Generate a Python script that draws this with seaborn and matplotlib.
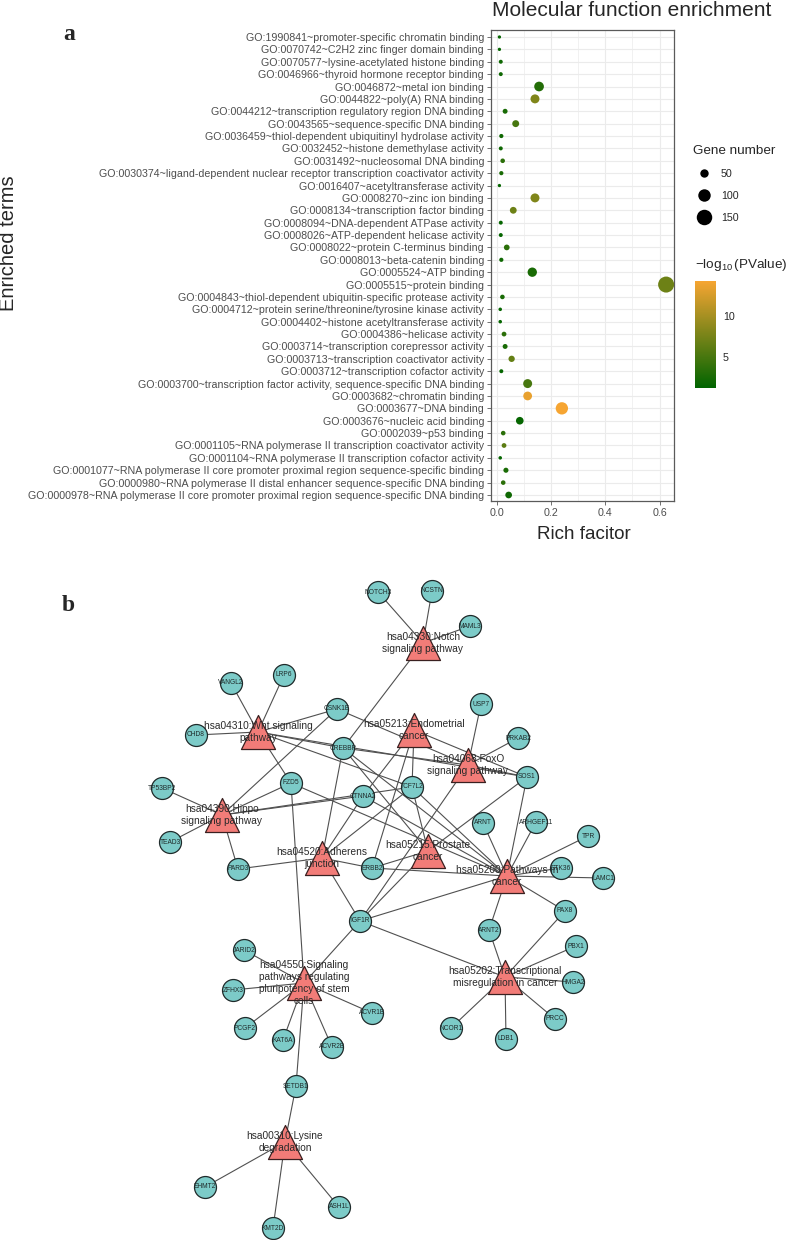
import pandas as pd
import matplotlib
matplotlib.use('Agg')
import matplotlib.pyplot as plt
from matplotlib.colors import LinearSegmentedColormap, Normalize
from matplotlib.cm import ScalarMappable
from matplotlib.lines import Line2D
import seaborn as sns

# ---- panel a: GO molecular function enrichment ----
terms = [
    'GO:1990841~promoter-specific chromatin binding',
    'GO:0070742~C2H2 zinc finger domain binding',
    'GO:0070577~lysine-acetylated histone binding',
    'GO:0046966~thyroid hormone receptor binding',
    'GO:0046872~metal ion binding',
    'GO:0044822~poly(A) RNA binding',
    'GO:0044212~transcription regulatory region DNA binding',
    'GO:0043565~sequence-specific DNA binding',
    'GO:0036459~thiol-dependent ubiquitinyl hydrolase activity',
    'GO:0032452~histone demethylase activity',
    'GO:0031492~nucleosomal DNA binding',
    'GO:0030374~ligand-dependent nuclear receptor transcription coactivator activity',
    'GO:0016407~acetyltransferase activity',
    'GO:0008270~zinc ion binding',
    'GO:0008134~transcription factor binding',
    'GO:0008094~DNA-dependent ATPase activity',
    'GO:0008026~ATP-dependent helicase activity',
    'GO:0008022~protein C-terminus binding',
    'GO:0008013~beta-catenin binding',
    'GO:0005524~ATP binding',
    'GO:0005515~protein binding',
    'GO:0004843~thiol-dependent ubiquitin-specific protease activity',
    'GO:0004712~protein serine/threonine/tyrosine kinase activity',
    'GO:0004402~histone acetyltransferase activity',
    'GO:0004386~helicase activity',
    'GO:0003714~transcription corepressor activity',
    'GO:0003713~transcription coactivator activity',
    'GO:0003712~transcription cofactor activity',
    'GO:0003700~transcription factor activity, sequence-specific DNA binding',
    'GO:0003682~chromatin binding',
    'GO:0003677~DNA binding',
    'GO:0003676~nucleic acid binding',
    'GO:0002039~p53 binding',
    'GO:0001105~RNA polymerase II transcription coactivator activity',
    'GO:0001104~RNA polymerase II transcription cofactor activity',
    'GO:0001077~RNA polymerase II core promoter proximal region sequence-specific binding',
    'GO:0000980~RNA polymerase II distal enhancer sequence-specific DNA binding',
    'GO:0000978~RNA polymerase II core promoter proximal region sequence-specific DNA binding',
]
rich_factor = [0.010, 0.010, 0.015, 0.015, 0.156, 0.141, 0.031, 0.070, 0.017, 0.015,
               0.022, 0.017, 0.010, 0.141, 0.061, 0.015, 0.015, 0.037, 0.017, 0.131,
               0.624, 0.021, 0.013, 0.013, 0.027, 0.031, 0.055, 0.017, 0.114, 0.114,
               0.240, 0.085, 0.024, 0.027, 0.013, 0.034, 0.024, 0.044]
gene_count = [15, 15, 18, 18, 64, 56, 23, 37, 19, 18,
              21, 19, 15, 56, 36, 18, 18, 28, 19, 60,
              160, 21, 16, 16, 22, 23, 32, 18, 56, 54,
              98, 43, 21, 22, 16, 24, 21, 35]
neg_log_p = [1.5, 1.5, 2.0, 2.0, 3.0, 8.0, 2.5, 5.0, 2.0, 2.0,
             3.5, 2.5, 1.5, 8.0, 7.0, 1.5, 1.5, 3.5, 2.0, 2.5,
             7.0, 2.5, 1.5, 1.5, 3.5, 2.5, 6.5, 1.5, 5.0, 13.5,
             14.3, 1.5, 3.5, 6.0, 1.5, 2.5, 3.5, 2.0]
size_ticks = [50, 100, 150]
color_ticks = [5, 10]

# ---- panel b: KEGG pathway / gene network ----
pathway_ids = ['hsa04330', 'hsa04310', 'hsa05213', 'hsa04068', 'hsa04390', 'hsa04520',
               'hsa05215', 'hsa05200', 'hsa04550', 'hsa05202', 'hsa00310']
pathway_labels = ['hsa04330:Notch\nsignaling pathway',
                  'hsa04310:Wnt signaling\npathway',
                  'hsa05213:Endometrial\ncancer',
                  'hsa04068:FoxO\nsignaling pathway',
                  'hsa04390:Hippo\nsignaling pathway',
                  'hsa04520:Adherens\njunction',
                  'hsa05215:Prostate\ncancer',
                  'hsa05200:Pathways in\ncancer',
                  'hsa04550:Signaling\npathways regulating\npluripotency of stem\ncells',
                  'hsa05202:Transcriptional\nmisregulation in cancer',
                  'hsa00310:Lysine\ndegradation']
genes = ['NOTCH3', 'NCSTN', 'MAML3', 'VANGL2', 'LRP6', 'CSNK1E', 'CHD8', 'CREBBP', 'USP7',
         'PRKAB2', 'SOS1', 'TP53BP2', 'FZD5', 'CTNNA2', 'TCF7L2', 'TEAD3', 'PARD3', 'ERBB2',
         'ARNT', 'ARHGEF11', 'TPR', 'STK36', 'LAMC1', 'IGF1R', 'ARNT2', 'PAX8', 'PBX1',
         'JARID2', 'ZFHX3', 'HMGA2', 'ACVR1B', 'PCGF2', 'NCOR1', 'PRCC', 'KAT6A', 'ACVR2B',
         'LDB1', 'SETDB1', 'EHMT2', 'ASH1L', 'KMT2D']
edges = [
    ('hsa04330', 'NOTCH3'), ('hsa04330', 'NCSTN'), ('hsa04330', 'MAML3'), ('hsa04330', 'CREBBP'),
    ('hsa04310', 'VANGL2'), ('hsa04310', 'LRP6'), ('hsa04310', 'CHD8'), ('hsa04310', 'CSNK1E'),
    ('hsa04310', 'FZD5'), ('hsa04310', 'CREBBP'), ('hsa04310', 'TCF7L2'), ('hsa04310', 'SOS1'),
    ('hsa05213', 'CTNNA2'), ('hsa05213', 'TCF7L2'), ('hsa05213', 'ERBB2'), ('hsa05213', 'SOS1'),
    ('hsa04068', 'USP7'), ('hsa04068', 'PRKAB2'), ('hsa04068', 'SOS1'), ('hsa04068', 'IGF1R'),
    ('hsa04068', 'CREBBP'), ('hsa04068', 'CSNK1E'),
    ('hsa04390', 'TP53BP2'), ('hsa04390', 'TEAD3'), ('hsa04390', 'PARD3'), ('hsa04390', 'CSNK1E'),
    ('hsa04390', 'FZD5'), ('hsa04390', 'CTNNA2'), ('hsa04390', 'TCF7L2'),
    ('hsa04520', 'PARD3'), ('hsa04520', 'CREBBP'), ('hsa04520', 'CTNNA2'), ('hsa04520', 'TCF7L2'),
    ('hsa04520', 'ERBB2'), ('hsa04520', 'IGF1R'),
    ('hsa05215', 'CREBBP'), ('hsa05215', 'TCF7L2'), ('hsa05215', 'ERBB2'), ('hsa05215', 'IGF1R'),
    ('hsa05215', 'SOS1'),
    ('hsa05200', 'CREBBP'), ('hsa05200', 'CTNNA2'), ('hsa05200', 'TCF7L2'), ('hsa05200', 'FZD5'),
    ('hsa05200', 'ERBB2'), ('hsa05200', 'IGF1R'), ('hsa05200', 'SOS1'), ('hsa05200', 'ARNT'),
    ('hsa05200', 'ARHGEF11'), ('hsa05200', 'TPR'), ('hsa05200', 'STK36'), ('hsa05200', 'LAMC1'),
    ('hsa05200', 'PAX8'), ('hsa05200', 'ARNT2'),
    ('hsa04550', 'JARID2'), ('hsa04550', 'ZFHX3'), ('hsa04550', 'PCGF2'), ('hsa04550', 'KAT6A'),
    ('hsa04550', 'ACVR2B'), ('hsa04550', 'ACVR1B'), ('hsa04550', 'IGF1R'), ('hsa04550', 'FZD5'),
    ('hsa04550', 'SETDB1'),
    ('hsa05202', 'IGF1R'), ('hsa05202', 'ARNT2'), ('hsa05202', 'PAX8'), ('hsa05202', 'PBX1'),
    ('hsa05202', 'HMGA2'), ('hsa05202', 'PRCC'), ('hsa05202', 'LDB1'), ('hsa05202', 'NCOR1'),
    ('hsa00310', 'SETDB1'), ('hsa00310', 'EHMT2'), ('hsa00310', 'ASH1L'), ('hsa00310', 'KMT2D'),
]

# node layout as drawn in the original (figure pixel coordinates)
layout = {
    'hsa04330': (423, 643), 'hsa04310': (258, 732), 'hsa05213': (414, 730),
    'hsa04068': (468, 765), 'hsa04390': (222, 815), 'hsa04520': (322, 858),
    'hsa05215': (428, 851), 'hsa05200': (507, 876), 'hsa04550': (304, 983),
    'hsa05202': (505, 977), 'hsa00310': (285, 1142),
    'NOTCH3': (378, 592), 'NCSTN': (432, 591), 'MAML3': (470, 626), 'VANGL2': (231, 683),
    'LRP6': (284, 675), 'CSNK1E': (337, 709), 'CHD8': (196, 735), 'CREBBP': (343, 748),
    'USP7': (481, 704), 'PRKAB2': (518, 738), 'SOS1': (527, 777), 'TP53BP2': (162, 788),
    'FZD5': (291, 783), 'CTNNA2': (363, 796), 'TCF7L2': (412, 787), 'TEAD3': (170, 842),
    'PARD3': (238, 869), 'ERBB2': (372, 868), 'ARNT': (483, 823), 'ARHGEF11': (536, 822),
    'TPR': (588, 836), 'STK36': (561, 868), 'LAMC1': (603, 878), 'IGF1R': (360, 921),
    'ARNT2': (489, 930), 'PAX8': (565, 911), 'PBX1': (576, 946), 'JARID2': (244, 950),
    'ZFHX3': (233, 990), 'HMGA2': (573, 982), 'ACVR1B': (372, 1013), 'PCGF2': (245, 1028),
    'NCOR1': (451, 1028), 'PRCC': (555, 1019), 'KAT6A': (283, 1040), 'ACVR2B': (332, 1047),
    'LDB1': (506, 1039), 'SETDB1': (296, 1086), 'EHMT2': (205, 1187), 'ASH1L': (339, 1207),
    'KMT2D': (273, 1228),
}

sns.set_style('white')
plt.rcParams['font.family'] = ['Liberation Sans', 'DejaVu Sans']
plt.rcParams['mathtext.fontset'] = 'custom'
plt.rcParams['mathtext.rm'] = 'Liberation Sans'
plt.rcParams['mathtext.it'] = 'Liberation Sans:italic'

W, H = 788, 1240
fig = plt.figure(figsize=(W / 100, H / 100), dpi=100)

df = pd.DataFrame({'term': terms, 'rich': rich_factor, 'count': gene_count, 'logp': neg_log_p})
cmap = LinearSegmentedColormap.from_list('pval', ['#006400', '#F6A532'])
cnorm = (1.15, 14.3)
smin, smax = 5.6, 133
size_norm = (15, 160)

ax = fig.add_axes([491 / W, 1 - 501 / H, 183 / W, 471 / H])
sns.scatterplot(data=df, x='rich', y='term', hue='logp', palette=cmap, hue_norm=cnorm,
                size='count', sizes=(smin, smax), size_norm=size_norm,
                legend=False, linewidth=0, ax=ax, zorder=3)
ax.set_xlim(-0.021, 0.653)
ax.set_ylim(len(terms) - 0.515, -0.565)
ax.set_xticks([0, 0.2, 0.4, 0.6])
ax.set_xticklabels(['0.0', '0.2', '0.4', '0.6'])
ax.set_xticks([0.1, 0.3, 0.5], minor=True)
ax.grid(True, which='major', color='#EBEBEB', lw=0.8)
ax.grid(True, which='minor', axis='x', color='#EBEBEB', lw=0.5)
ax.set_axisbelow(True)
for sp in ax.spines.values():
    sp.set_color('#5a5a5a')
    sp.set_linewidth(0.9)
ax.tick_params(which='major', length=3, width=0.6, color='#5a5a5a', labelsize=7.7,
               labelcolor='#4D4D4D', pad=2, left=True, bottom=True)
ax.tick_params(which='minor', length=0)
ax.set_xlabel('')
ax.set_ylabel('')

fig.text(632 / W, 1 - 16 / H, 'Molecular function enrichment', ha='center', va='baseline', fontsize=15)
fig.text(9 / W, 1 - 243 / H, 'Enriched terms', rotation=90, ha='center', va='center', fontsize=14.5)
fig.text(584 / W, 1 - 535 / H, 'Rich facitor', ha='center', va='center', fontsize=13.5)
fig.text(69 / W, 1 - 40 / H, 'a', family=['Liberation Serif', 'DejaVu Serif'], weight='bold',
         fontsize=17, ha='center', va='baseline')
fig.text(68 / W, 1 - 611 / H, 'b', family=['Liberation Serif', 'DejaVu Serif'], weight='bold',
         fontsize=17, ha='center', va='baseline')


def dot_area(v):
    return smin + (v - size_norm[0]) / (size_norm[1] - size_norm[0]) * (smax - smin)


handles = [Line2D([], [], ls='none', marker='o', color='black', markeredgewidth=0,
                  markersize=dot_area(v) ** 0.5) for v in size_ticks]
leg = ax.legend(handles, [str(v) for v in size_ticks], title='Gene number',
                loc='upper left', bbox_to_anchor=(693 / W, 1 - 145 / H),
                bbox_transform=fig.transFigure, frameon=False, fontsize=7.7,
                title_fontsize=9.7, alignment='left', handlelength=2.0,
                handletextpad=0.6, labelspacing=1.12, borderpad=0, borderaxespad=0)

cax = fig.add_axes([695 / W, 1 - 388 / H, 21 / W, 107 / H])
cb = fig.colorbar(ScalarMappable(norm=Normalize(*cnorm), cmap=cmap), cax=cax, ticks=color_ticks)
cb.outline.set_visible(False)
cax.tick_params(length=4, width=0.8, color='white', direction='in', labelsize=7.7, pad=5,
                left=True, right=True)
fig.text(695 / W, 1 - 265 / H, r'$-\log_{10}$(PValue)', ha='left', va='center', fontsize=9.7)

# ---- network ----
net = fig.add_axes([0, 0, 1, 1], zorder=5)
net.patch.set_alpha(0)

for p, g in edges:
    (x0, y0), (x1, y1) = layout[p], layout[g]
    net.plot([x0, x1], [y0, y1], color='#505050', lw=0.8, zorder=1)

gene_df = pd.DataFrame({'name': genes,
                        'x': [layout[g][0] for g in genes],
                        'y': [layout[g][1] for g in genes]})
path_df = pd.DataFrame({'name': pathway_ids, 'label': pathway_labels,
                        'x': [layout[p][0] for p in pathway_ids],
                        'y': [layout[p][1] for p in pathway_ids]})

sns.scatterplot(data=gene_df, x='x', y='y', marker='o', s=250, color='#7CCBC8',
                edgecolor='#1f2a2a', linewidth=0.9, ax=net, zorder=2)
sns.scatterplot(data=path_df, x='x', y='y', marker='^', s=600, color='#F27C78',
                edgecolor='#3a2020', linewidth=0.9, ax=net, zorder=2)

for _, r in gene_df.iterrows():
    net.text(r['x'], r['y'], r['name'], ha='center', va='center', fontsize=4.8,
             color='#1f2a2a', zorder=3)
for _, r in path_df.iterrows():
    net.text(r['x'], r['y'], r['label'], ha='center', va='center', fontsize=7.3,
             color='#2a2a2a', linespacing=1.25, zorder=3)

net.set_xlim(0, W)
net.set_ylim(H, 0)
net.axis('off')

fig.savefig('out.png', dpi=100)
